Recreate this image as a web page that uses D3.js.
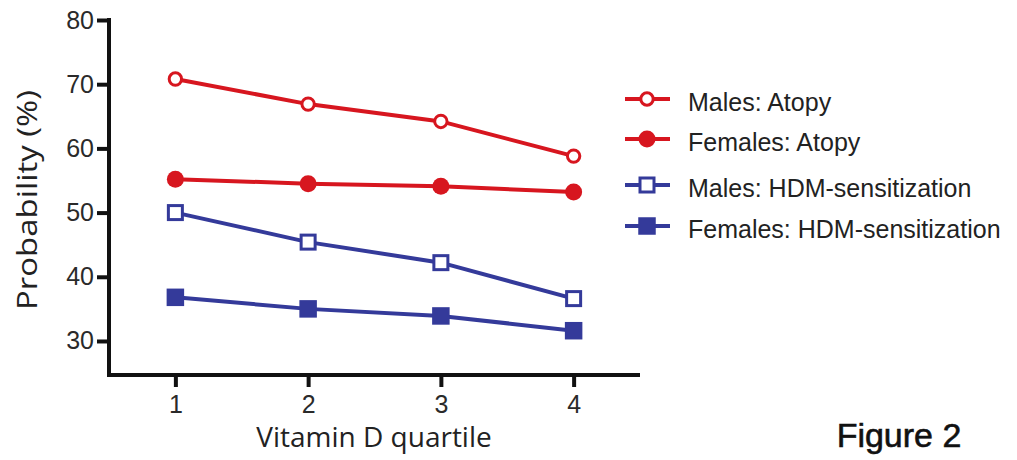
<!DOCTYPE html>
<html><head><meta charset="utf-8">
<script src="https://cdn.jsdelivr.net/npm/d3@7"></script>
<style>body{margin:0;background:#fff}svg{display:block}</style>
</head><body><svg id="c" width="1017" height="460"></svg>
<script>
const quartiles = [1, 2, 3, 4];
const yTicks = [30, 40, 50, 60, 70, 80];
const malesAtopy = [70.8, 66.9, 64.2, 58.8];
const femalesAtopy = [55.2, 54.5, 54.1, 53.2];
const malesHDM = [50.0, 45.4, 42.2, 36.6];
const femalesHDM = [36.8, 35.0, 33.9, 31.6];
const seriesNames = ["Males: Atopy", "Females: Atopy", "Males: HDM-sensitization", "Females: HDM-sensitization"];

const RED = "#d7161f", BLUE = "#343a9a";
const series = [
  {name: seriesNames[0], values: malesAtopy, color: RED, shape: "circle", filled: false},
  {name: seriesNames[1], values: femalesAtopy, color: RED, shape: "circle", filled: true},
  {name: seriesNames[2], values: malesHDM, color: BLUE, shape: "square", filled: false},
  {name: seriesNames[3], values: femalesHDM, color: BLUE, shape: "square", filled: true}
];

const svg = d3.select("#c");
const x = d3.scaleLinear().domain([0.5, 4.5]).range([109, 640]);
const y = d3.scaleLinear().domain([24.7, 80]).range([375, 20]);

const AX = "#111";
const yAxis = svg.append("g").attr("transform", "translate(109,0)")
  .call(d3.axisLeft(y).tickValues(yTicks).tickFormat(d3.format("d")).tickSize(12).tickPadding(3).tickSizeOuter(0));
const xAxis = svg.append("g").attr("transform", "translate(0,375)")
  .call(d3.axisBottom(x).tickValues(quartiles).tickFormat(d3.format("d")).tickSize(12).tickPadding(8).tickSizeOuter(0));
[yAxis, xAxis].forEach(a => {
  a.attr("font-size", null).attr("font-family", null);
  a.select(".domain").remove();
  a.selectAll(".tick line").attr("stroke", AX).attr("stroke-width", 4);
  a.selectAll(".tick text").attr("fill", "#2a2a2a")
    .style("font-family", "'Liberation Sans', Arial, sans-serif").style("font-size", "25px");
});
svg.append("path").attr("d", `M109,${y(80) - 2}V375H640`).attr("fill", "none")
  .attr("stroke", AX).attr("stroke-width", 4).attr("stroke-linejoin", "miter");

const line = d3.line().x((d, i) => x(quartiles[i])).y(d => y(d));

function marker(g, shape, filled, color, cx, cy) {
  if (shape === "circle") {
    g.append("circle").attr("cx", cx).attr("cy", cy).attr("r", filled ? 8.5 : 6.2)
      .attr("fill", filled ? color : "#fff").attr("stroke", color).attr("stroke-width", filled ? 0 : 3);
  } else {
    const s = filled ? 17.5 : 14;
    g.append("rect").attr("x", cx - s / 2).attr("y", cy - s / 2).attr("width", s).attr("height", s)
      .attr("fill", filled ? color : "#fff").attr("stroke", color).attr("stroke-width", filled ? 0 : 3);
  }
}

series.forEach(s => {
  const g = svg.append("g");
  g.append("path").attr("d", line(s.values)).attr("fill", "none").attr("stroke", s.color).attr("stroke-width", 4);
  s.values.forEach((v, i) => marker(g, s.shape, s.filled, s.color, x(quartiles[i]), y(v)));
});

// legend
const legY = [99, 139, 185, 226];
series.forEach((s, i) => {
  const g = svg.append("g");
  g.append("line").attr("x1", 625).attr("x2", 670).attr("y1", legY[i]).attr("y2", legY[i]).attr("stroke", s.color).attr("stroke-width", 4);
  marker(g, s.shape, s.filled, s.color, 647, legY[i]);
  g.append("text").attr("x", 688).attr("y", legY[i] + 12).text(s.name)
    .style("font-family", "'Liberation Sans', Arial, sans-serif").style("font-size", "25px").attr("fill", "#222");
});

// axis titles
svg.append("text").attr("transform", "translate(37,200) rotate(-90)").attr("text-anchor", "middle")
  .attr("textLength", 220).attr("lengthAdjust", "spacingAndGlyphs")
  .style("font-family", "'Open Sans', sans-serif").style("font-size", "28px").attr("fill", "#222").text("Probability (%)");
svg.append("text").attr("x", 374).attr("y", 447).attr("text-anchor", "middle")
  .style("font-family", "'Open Sans', sans-serif").style("font-size", "28px").attr("fill", "#222").text("Vitamin D quartile");
svg.append("text").attr("x", 899).attr("y", 447).attr("text-anchor", "middle")
  .attr("stroke", "#111").attr("stroke-width", 0.6)
  .style("font-family", "'Liberation Sans', Arial, sans-serif").style("font-size", "34px").attr("fill", "#111").text("Figure 2");
</script></body></html>
